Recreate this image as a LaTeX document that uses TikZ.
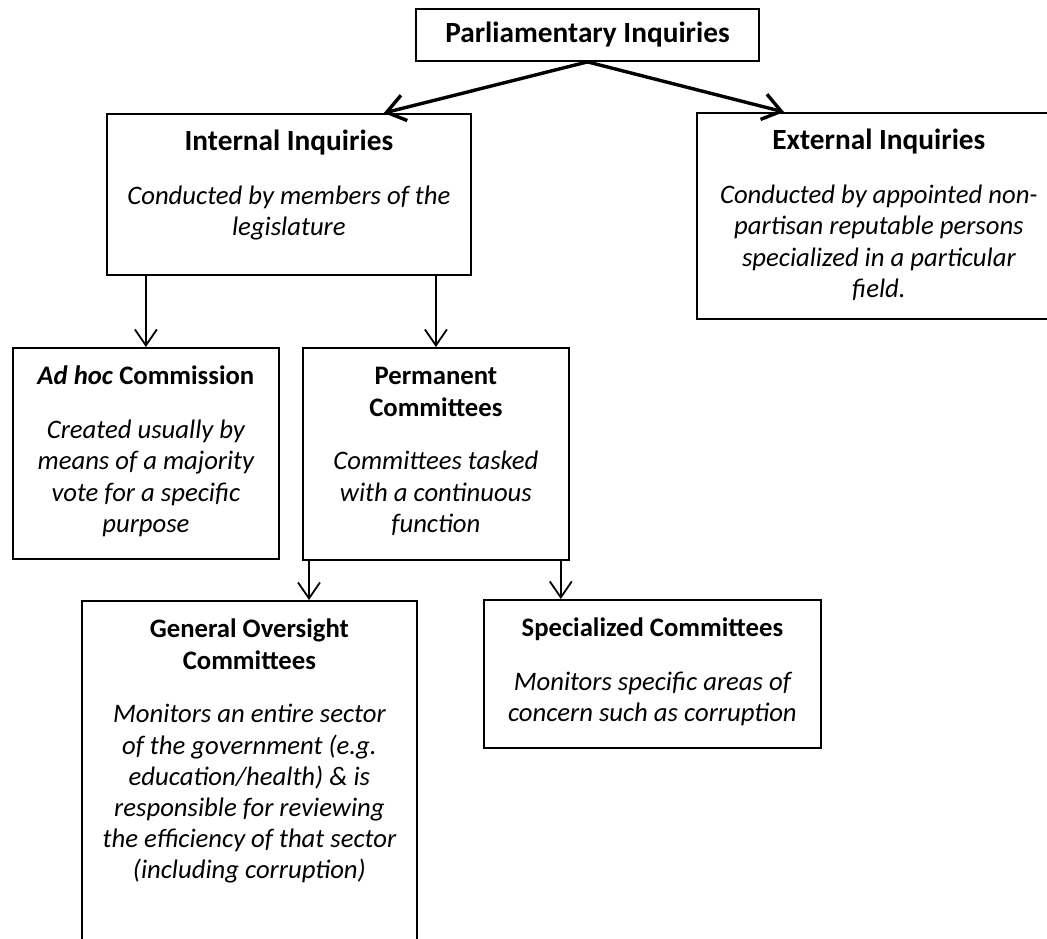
\documentclass[tikz,border=0pt]{standalone}
\usepackage{fontspec}
\setmainfont{Carlito}
\usepackage{tikz}
\usetikzlibrary{arrows.meta}
\tikzset{every picture/.style={line width=1.8pt}}
\tikzset{
 inqbox/.style={draw,inner sep=0pt,anchor=north west},
 thinarr/.style={-{Straight Barb[length=16pt,width=22pt]},line width=1.8pt},
 thickarr/.style={-{Straight Barb[length=18pt,width=26pt]},line width=3.4pt}
}
\newcommand{\bighead}{\fontsize{29.3}{34}\selectfont}
% [gap], width, height, bold heading, italic text; heading sits at the top
\newcommand{\inqtext}[5][22.5pt]{%
 \parbox[c][#3][t]{#2}{\centering
  \rule{0pt}{37pt}\textbf{#4}\par\vspace{#1}
  {\itshape #5\par}}}

\begin{document}
\begin{tikzpicture}[x=1pt,y=-1pt,
 every node/.style={font=\fontsize{26.7}{31.2}\selectfont}]
 \useasboundingbox (0,0) rectangle (1047,939);

 % Top of the tree.
 \node[draw,inner sep=0pt,minimum width=343pt,minimum height=52pt]
  (parl) at (587.5,35) {\textbf{\bighead Parliamentary Inquiries}};

 % The two kinds of inquiry; the right box runs off the page.
 \node[inqbox] (int) at (106,113)
  {\inqtext{364pt}{161pt}{\bighead Internal Inquiries}
   {Conducted by members of the\\legislature}};
 \node[inqbox] (ext) at (696,112)
  {\inqtext{364pt}{206pt}{\bighead External Inquiries}
   {Conducted by appointed non-\\partisan reputable persons\\
    specialized in a particular\\field.}};
 \draw[thickarr] (parl.south) -- ([xshift=-88pt]int.north east);
 \draw[thickarr] (parl.south) -- ([xshift=88pt]ext.north west);

 % Internal inquiries split in two.
 \node[inqbox] (adhoc) at (12,347)
  {\inqtext{266pt}{211pt}{\textit{Ad hoc} Commission}
   {Created usually by\\means of a majority\\vote for a specific\\purpose}};
 \node[inqbox] (perm) at (302,347)
  {\inqtext{266pt}{212pt}{Permanent\\Committees}
   {Committees tasked\\with a continuous\\function}};
 \draw[thinarr] (adhoc.north |- int.south) -- (adhoc.north);
 \draw[thinarr] (perm.north |- int.south) -- (perm.north);

 % Permanent committees split in two; the left box runs off the page.
 \node[inqbox] (gen) at (81,600)
  {\inqtext{335pt}{360pt}{General Oversight\\Committees}
   {Monitors an entire sector\\of the government (e.g.\\
    education/health) \& is\\responsible for reviewing\\
    the efficiency of that sector\\(including corruption)}};
 \node[inqbox] (spec) at (483,599)
  {\inqtext{337pt}{148pt}{Specialized Committees}
   {Monitors specific areas of\\concern such as corruption}};
 \draw[thinarr] ([xshift=7pt]perm.south west)
  -- ([xshift=7pt]perm.south west |- gen.north);
 \draw[thinarr] ([xshift=-9pt]perm.south east)
  -- ([xshift=-9pt]perm.south east |- spec.north);
\end{tikzpicture}
\end{document}
